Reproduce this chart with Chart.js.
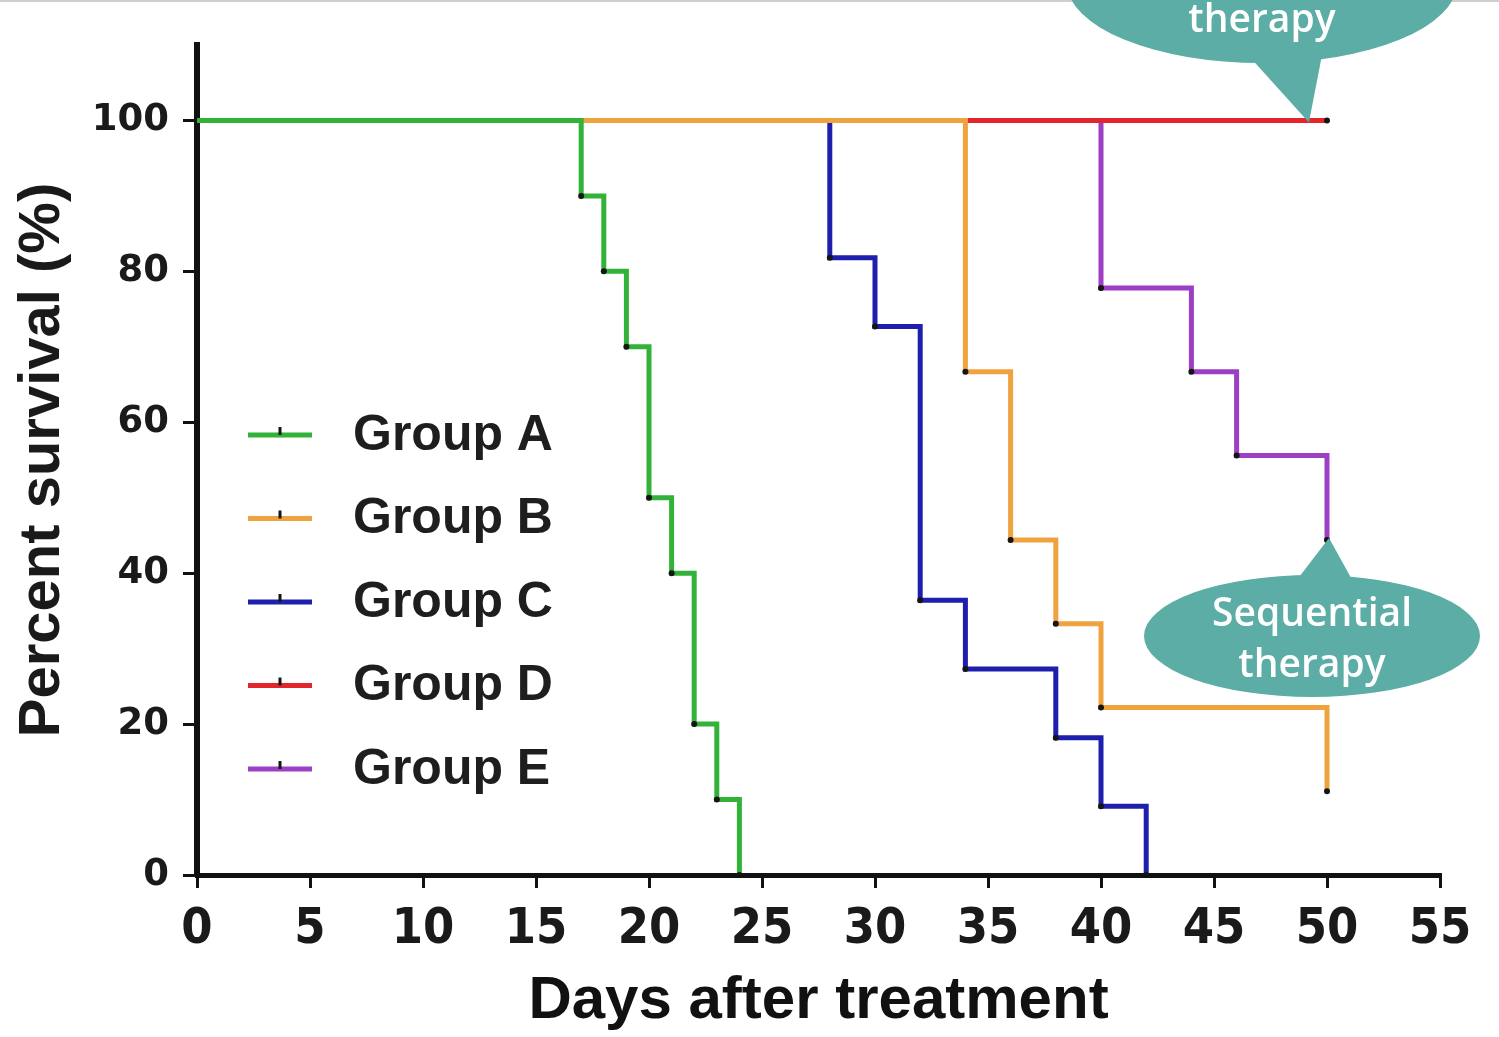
<!DOCTYPE html>
<html>
<head>
<meta charset="utf-8">
<style>
    html, body { margin: 0; padding: 0; background: #fff; overflow: hidden; }
    #wrap { width: 1499px; height: 1037px; position: relative; }
</style>
<script src="https://cdn.jsdelivr.net/npm/chart.js@4.4.1/dist/chart.umd.min.js"></script>
</head>
<body>
<div id="wrap"><canvas id="km"></canvas></div>
<script>
// Kaplan-Meier data: day of each step and the survival after it
const groupNames = ['Group A', 'Group B', 'Group C', 'Group D', 'Group E'];
const groupColors = ['#33b23a', '#efa33e', '#1f1fae', '#e2262c', '#9c3fc4'];

const daysA = [0, 17, 18, 19, 20, 21, 22, 23, 24];
const survA = [100, 90, 80, 70, 50, 40, 20, 10, 0];
const daysB = [0, 34, 36, 38, 40, 50];
const survB = [100, 66.7, 44.4, 33.3, 22.2, 11.1];
const daysC = [0, 28, 30, 32, 34, 38, 40, 42];
const survC = [100, 81.8, 72.7, 36.4, 27.3, 18.2, 9.1, 0];
const daysD = [0, 50];
const survD = [100, 100];
const daysE = [0, 40, 44, 46, 50];
const survE = [100, 77.8, 66.7, 55.6, 44.4];

const xTicks = [0, 5, 10, 15, 20, 25, 30, 35, 40, 45, 50, 55];
const yTicks = [0, 20, 40, 60, 80, 100];
const bubbleText = ['Sequential', 'therapy'];

const allDays = [daysA, daysB, daysC, daysD, daysE];
const allSurv = [survA, survB, survC, survD, survE];
// which curve sits on top where they overlap at 100%
const drawOrder = [0, 1, 3, 2, 4];

const teal = '#5badA5';

const toPoints = (days, surv) => days.map((d, i) => ({ x: d, y: surv[i] }));

const datasets = groupNames.map((name, i) => ({
    label: name,
    data: toPoints(allDays[i], allSurv[i]),
    borderColor: groupColors[i],
    borderWidth: 5,
    stepped: true,
    fill: false,
    order: drawOrder[i],
    pointRadius: ctx => ctx.dataIndex === 0 ? 0 : 3,
    pointBackgroundColor: '#151515',
    pointBorderWidth: 0
}));

function drawBubble(ctx, cx, cy, rx, ry, tail, lines, firstY, gap) {
    ctx.save();
    ctx.fillStyle = teal;
    ctx.beginPath();
    ctx.ellipse(cx, cy, rx, ry, 0, 0, Math.PI * 2);
    ctx.fill();
    ctx.beginPath();
    ctx.moveTo(tail[0][0], tail[0][1]);
    ctx.lineTo(tail[1][0], tail[1][1]);
    ctx.lineTo(tail[2][0], tail[2][1]);
    ctx.closePath();
    ctx.fill();
    ctx.fillStyle = '#ffffff';
    ctx.font = '600 39px "Open Sans", "Noto Sans", sans-serif';
    ctx.textAlign = 'center';
    ctx.textBaseline = 'alphabetic';
    lines.forEach((t, i) => ctx.fillText(t, cx, firstY + i * gap));
    ctx.restore();
}

const extras = {
    id: 'extras',
    afterDraw(chart) {
        const ctx = chart.ctx;
        const area = chart.chartArea;
        const xs = chart.scales.x;
        const ys = chart.scales.y;

        // thin frame line along the top of the picture
        ctx.save();
        ctx.fillStyle = '#cfcfcf';
        ctx.fillRect(0, 0, chart.width, 2);
        ctx.restore();

        // legend inside the plot, left side
        ctx.save();
        ctx.font = 'bold 50px "Liberation Sans", Arial, sans-serif';
        ctx.textBaseline = 'middle';
        ctx.textAlign = 'left';
        groupNames.forEach((name, i) => {
            const y = 435 + i * 83.5;
            const x0 = area.left + 51;
            ctx.strokeStyle = groupColors[i];
            ctx.lineWidth = 5;
            ctx.beginPath();
            ctx.moveTo(x0, y);
            ctx.lineTo(x0 + 64, y);
            ctx.stroke();
            ctx.strokeStyle = '#151515';
            ctx.lineWidth = 3;
            ctx.beginPath();
            ctx.moveTo(x0 + 32, y);
            ctx.lineTo(x0 + 32, y - 8);
            ctx.stroke();
            ctx.fillStyle = '#1e1e1e';
            ctx.fillText(name, x0 + 105, y + 1);
        });
        ctx.restore();

        // callout pointing at the end of Group D
        const tipD = [xs.getPixelForValue(49.2), ys.getPixelForValue(100) + 2];
        drawBubble(ctx, 1262, -17, 195, 80,
            [[1248, 55], [1322, 55], tipD], bubbleText, -19, 51);

        // callout pointing at the end of Group E
        const tipE = [xs.getPixelForValue(daysE[daysE.length - 1]) + 2, ys.getPixelForValue(survE[survE.length - 1]) - 2];
        drawBubble(ctx, 1312, 636, 168, 61,
            [[1293, 585], [1355, 585], tipE], bubbleText, 626, 51);
    }
};

new Chart(document.getElementById('km'), {
    type: 'line',
    data: { datasets },
    plugins: [extras],
    options: {
        responsive: true,
        maintainAspectRatio: false,
        animation: false,
        devicePixelRatio: 1,
        layout: { padding: { left: 0, top: 45, right: 59, bottom: 0 } },
        plugins: {
            legend: { display: false },
            tooltip: { enabled: false }
        },
        scales: {
            x: {
                type: 'linear',
                min: 0,
                max: 55,
                afterFit: s => { s.height = 162; },
                afterBuildTicks: s => { s.ticks = xTicks.map(v => ({ value: v })); },
                grid: { drawOnChartArea: false, drawTicks: true, tickLength: 13, tickColor: '#111', lineWidth: 3 },
                border: { display: true, color: '#111', width: 5 },
                ticks: {
                    color: '#1a1a1a',
                    padding: 12,
                    maxRotation: 0,
                    font: { family: '"Liberation Sans Narrow", "DejaVu Sans Condensed", Arial', weight: 'bold', size: 50 }
                },
                title: {
                    display: true,
                    text: 'Days after treatment',
                    color: '#111',
                    padding: { top: 0, bottom: 6 },
                    font: { family: '"Liberation Sans", Arial', weight: 'bold', size: 60, lineHeight: 1 }
                }
            },
            y: {
                min: 0,
                max: 110,
                afterFit: s => { s.width = 197; },
                afterBuildTicks: s => { s.ticks = yTicks.map(v => ({ value: v })); },
                grid: { drawOnChartArea: false, drawTicks: true, tickLength: 14, tickColor: '#111', lineWidth: 3 },
                border: { display: true, color: '#111', width: 6 },
                ticks: {
                    color: '#1a1a1a',
                    padding: 14,
                    font: { family: '"DejaVu Sans", Verdana', weight: 'bold', size: 37 }
                },
                title: {
                    display: true,
                    text: 'Percent survival (%)',
                    color: '#1a1a1a',
                    padding: { top: 14, bottom: 0 },
                    font: { family: '"Liberation Sans", Arial', weight: 'bold', size: 58, lineHeight: 1 }
                }
            }
        }
    }
});
</script>
</body>
</html>
